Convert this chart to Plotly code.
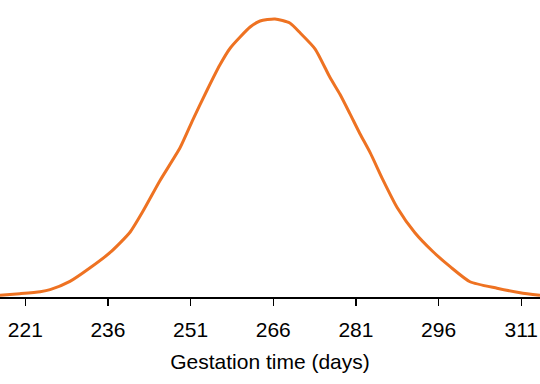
import plotly.graph_objects as go

# Gestation time (days) and density
days = [216.4, 220.0, 223.7, 225.5, 229.1, 232.7, 236.4, 240.0, 242.4, 245.4,
        249.1, 251.4, 254.0, 256.3, 258.2, 261.8, 263.6, 266.3, 269.0, 270.9,
        273.6, 276.3, 278.1, 279.9, 281.7, 283.6, 285.9, 288.5, 291.7, 295.0,
        298.1, 301.7, 306.6, 310.8, 314.4]
density = [0.00017, 0.00032, 0.00051, 0.00070, 0.00149, 0.00277, 0.00426, 0.00620, 0.00825, 0.01110,
           0.01430, 0.01695, 0.01981, 0.02220, 0.02383, 0.02584, 0.02641, 0.02660, 0.02622, 0.02526,
           0.02373, 0.02100, 0.01940, 0.01755, 0.01565, 0.01379, 0.01121, 0.00854, 0.00615, 0.00433,
           0.00290, 0.00146, 0.00084, 0.00041, 0.00017]
tick_vals = [221, 236, 251, 266, 281, 296, 311]
tick_text = ["221", "236", "251", "266", "281", "296", "311"]

fig = go.Figure()
fig.add_trace(go.Scatter(
    x=days, y=density, mode="lines",
    line=dict(color="#EE7222", width=3, shape="spline", smoothing=0.6),
    hoverinfo="skip", showlegend=False, cliponaxis=False,
))

fig.update_layout(
    width=540, height=384,
    margin=dict(l=0, r=0, t=0, b=87, autoexpand=False),
    paper_bgcolor="white", plot_bgcolor="white",
    font=dict(family="Liberation Sans, Arial, sans-serif", color="black"),
    xaxis=dict(
        range=[216.41, 314.4], automargin=False,
        tickvals=tick_vals, ticktext=tick_text,
        ticks="outside", ticklen=7, tickwidth=1.5, tickcolor="black",
        ticklabelstandoff=6,
        showline=True, linecolor="black", linewidth=1.5,
        showgrid=False, zeroline=False,
        tickfont=dict(size=21, color="black"),
        title=dict(text="Gestation time (days)", font=dict(size=21, color="black"), standoff=14),
    ),
    yaxis=dict(
        range=[0, 0.02842], visible=False, showgrid=False, zeroline=False, automargin=False,
    ),
)

fig.write_html("out.html", config={"displayModeBar": False, "staticPlot": True},
               post_script="document.body.style.margin='0';document.body.style.overflow='hidden';")
